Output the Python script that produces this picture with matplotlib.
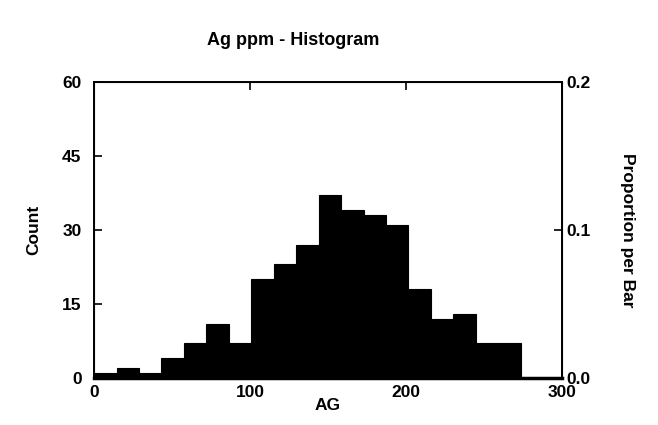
import numpy as np
import matplotlib
matplotlib.use("Agg")
import matplotlib.pyplot as plt

plt.rcParams["font.family"] = ["Liberation Sans", "DejaVu Sans"]
plt.rcParams["font.weight"] = "bold"

# histogram counts per bar (bars of equal width starting at 0)
counts = [1, 2, 1, 4, 7, 11, 7, 20, 23, 27, 37, 34, 33, 31, 18, 12, 13, 7, 7, 0, 0]
bin_start = 0
bin_width = 14.4
n_total = 300

x_ticks = [0, 100, 200, 300]
y_ticks = [0, 15, 30, 45, 60]
prop_ticks = [0.0, 0.1, 0.2]

edges = bin_start + bin_width * np.arange(len(counts))

fig = plt.figure(figsize=(6.58, 4.25), dpi=100)
ax = fig.add_axes([0.143, 0.111, 0.711, 0.696])

ax.bar(edges, counts, width=bin_width, align="edge", color="black",
       edgecolor="black", linewidth=0.8)

ax.set_xlim(0, 300)
ax.set_ylim(0, 60)
ax.set_xticks(x_ticks)
ax.set_yticks(y_ticks)
ax.tick_params(direction="in", length=6, width=1.2, labelsize=12.5,
               top=True)
ax.tick_params(axis="y", pad=9)
ax.tick_params(axis="x", pad=5)
for lab in ax.get_xticklabels() + ax.get_yticklabels():
    lab.set_fontweight("bold")
for side in ["left", "right", "top"]:
    ax.spines[side].set_linewidth(1.4)
ax.spines["bottom"].set_linewidth(2.5)

ax.set_xlabel("AG", fontsize=12.5, fontweight="bold", labelpad=-1)
ax.set_ylabel("Count", fontsize=12.5, fontweight="bold", labelpad=15)

ax2 = ax.twinx()
ax2.set_ylim(0, 60 / n_total)
ax2.set_yticks(prop_ticks)
ax2.set_yticklabels([f"{t:.1f}" for t in prop_ticks], fontweight="bold")
ax2.tick_params(direction="in", length=6, width=1.2, labelsize=12.5, pad=3)
ax2.set_ylabel("Proportion per Bar", fontsize=12.5, fontweight="bold",
               rotation=-90, labelpad=32)

fig.text(0.446, 0.905, "Ag ppm - Histogram", ha="center", va="center",
         fontsize=13, fontweight="bold")

fig.savefig("out.png", dpi=100, facecolor="white")
